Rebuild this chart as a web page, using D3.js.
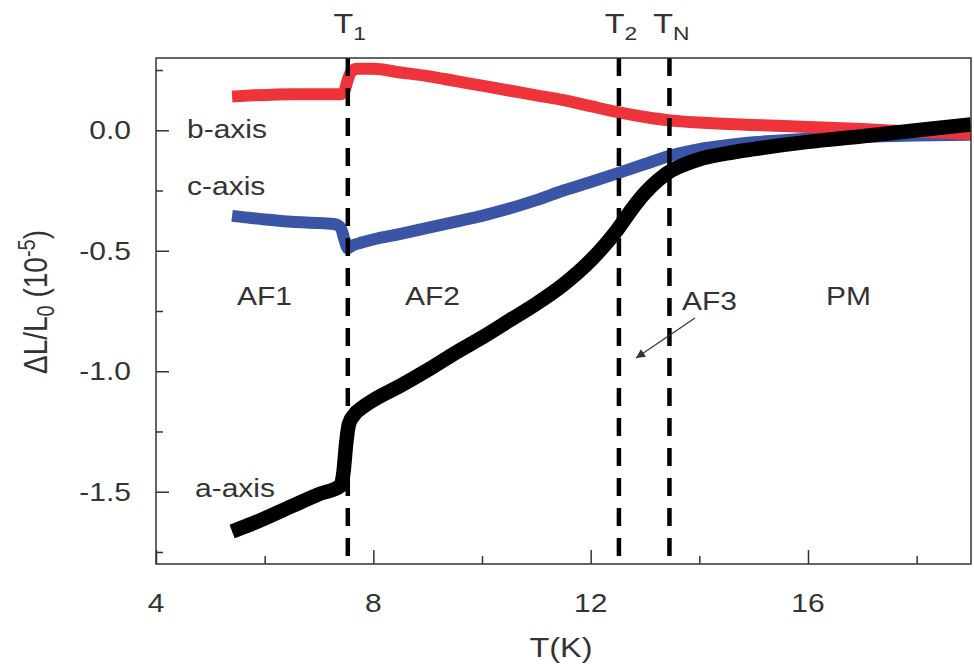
<!DOCTYPE html>
<html><head><meta charset="utf-8">
<script src="https://cdn.jsdelivr.net/npm/d3@7"></script>
<style>
html,body{margin:0;padding:0;background:#fff;}
text{font-family:"Liberation Sans",Arial,sans-serif;fill:#333;}
</style></head>
<body><svg id="c" width="974" height="664"></svg>
<script>
// ---- data ----
const tB = [5.4,5.8,6.5,7.0,7.4,7.47,7.53,7.6,7.7,8.0,8.5,9.0,9.5,10,10.5,11,11.5,12,12.5,13,13.5,14,15,16,17,18,19];
const vB = [0.14,0.145,0.15,0.15,0.15,0.165,0.21,0.245,0.255,0.255,0.24,0.225,0.205,0.185,0.165,0.145,0.125,0.1,0.075,0.055,0.04,0.032,0.022,0.014,0.005,-0.006,-0.015];

const tC = [5.4,6.0,6.5,7.0,7.3,7.4,7.47,7.53,7.6,7.8,8.5,9.0,9.5,10,10.5,11,11.5,12,12.5,13,13.5,14,14.5,15,16,17,18,19];
const vC = [-0.355,-0.37,-0.38,-0.385,-0.39,-0.405,-0.455,-0.49,-0.48,-0.465,-0.43,-0.405,-0.38,-0.355,-0.325,-0.29,-0.25,-0.215,-0.178,-0.14,-0.103,-0.078,-0.062,-0.05,-0.035,-0.027,-0.022,-0.018];

const tA = [5.4,5.8,6.5,7.0,7.4,7.45,7.5,7.55,7.65,7.8,8.0,8.5,9.0,9.5,10,10.5,11,11.5,12,12.5,12.75,13,13.25,13.5,13.75,14,14.5,15,16,17,18,19];
const vA = [-1.665,-1.63,-1.56,-1.51,-1.475,-1.42,-1.3,-1.22,-1.18,-1.15,-1.12,-1.06,-0.995,-0.925,-0.86,-0.79,-0.72,-0.64,-0.54,-0.41,-0.33,-0.26,-0.205,-0.165,-0.14,-0.12,-0.096,-0.078,-0.048,-0.025,0.0,0.024];

const transT = [7.53, 12.52, 13.45];
const transLabels = [["T","1"],["T","2"],["T","N"]];
const xMajor = [4,8,12,16];
const xMinor = [6,10,14,18];
const yMajor = [0,-0.5,-1.0,-1.5];
const yMinor = [0.25,-0.25,-0.75,-1.25,-1.75];
const curveLabels = ["b-axis","c-axis","a-axis"];
const regionLabels = ["AF1","AF2","AF3","PM"];
</script>
<script>
const SX = 1.2;
const svg = d3.select("#c");
const M = {l:156, r:971, t:58, b:564};
const x = d3.scaleLinear().domain([4,19]).range([M.l, M.r]);
const y = d3.scaleLinear().domain([-1.8,0.3]).range([M.b, M.t]);

function txt(px, py, str, size, anchor){
  const g = svg.append("g").attr("transform", `translate(${px},${py}) scale(${SX},1)`);
  return g.append("text").attr("font-size", size).attr("text-anchor", anchor||"start").text(str);
}

// curves
const line = d3.line().x(d=>x(d[0])).y(d=>y(d[1])).curve(d3.curveMonotoneX);
svg.append("clipPath").attr("id","pc").append("rect")
  .attr("x",M.l).attr("y",M.t).attr("width",M.r-M.l).attr("height",M.b-M.t);
const gP = svg.append("g").attr("clip-path","url(#pc)");
gP.append("path").datum(d3.zip(tC,vC)).attr("d",line).attr("fill","none")
  .attr("stroke","#3a55a6").attr("stroke-width",12);
gP.append("path").datum(d3.zip(tB,vB)).attr("d",line).attr("fill","none")
  .attr("stroke","#ee333b").attr("stroke-width",12);
gP.append("path").datum(d3.zip(tA,vA)).attr("d",line).attr("fill","none")
  .attr("stroke","#000").attr("stroke-width",14.5);

// dashed transition lines
transT.forEach(t=>{
  svg.append("line").attr("x1",x(t)).attr("x2",x(t)).attr("y1",M.t).attr("y2",M.b)
    .attr("stroke","#000").attr("stroke-width",4.5).attr("stroke-dasharray","18,12");
});

// frame
svg.append("rect").attr("x",M.l).attr("y",M.t).attr("width",M.r-M.l).attr("height",M.b-M.t)
  .attr("fill","none").attr("stroke","#333").attr("stroke-width",1.5);

// ticks (inward)
const gx = svg.append("g").attr("transform",`translate(0,${M.b})`)
  .call(d3.axisBottom(x).tickValues(xMajor).tickSize(-14).tickFormat(""));
const gxm = svg.append("g").attr("transform",`translate(0,${M.b})`)
  .call(d3.axisBottom(x).tickValues(xMinor).tickSize(-8).tickFormat(""));
const gy = svg.append("g").attr("transform",`translate(${M.l},0)`)
  .call(d3.axisLeft(y).tickValues(yMajor).tickSize(-13).tickFormat(""));
const gym = svg.append("g").attr("transform",`translate(${M.l},0)`)
  .call(d3.axisLeft(y).tickValues(yMinor).tickSize(-7).tickFormat(""));
[gx,gxm,gy,gym].forEach(g=>{
  g.select(".domain").remove();
  g.selectAll("line").attr("stroke","#333").attr("stroke-width",1.5);
});

// tick labels
xMajor.forEach(v=> txt(x(v), 612, String(v), 25, "middle"));
yMajor.forEach(v=> txt(131, y(v)+9, d3.format(".1f")(v).replace("−","-"), 25, "end"));

// transition labels
transT.forEach((t,i)=>{
  const [a,s] = transLabels[i];
  const tt = txt(x(t)+2, 33, "", 27, "middle");
  tt.append("tspan").text(a);
  tt.append("tspan").attr("font-size",19).attr("dy",7).text(s);
});

// curve labels
txt(187,138,curveLabels[0],25);
txt(187,195,curveLabels[1],25);
txt(195,497,curveLabels[2],25);
// region labels
txt(237,305,regionLabels[0],25);
txt(405,305,regionLabels[1],25);
txt(682,310,regionLabels[2],25);
txt(826,305,regionLabels[3],25);

// arrow
svg.append("defs").append("marker").attr("id","ah").attr("viewBox","0 0 10 10")
  .attr("refX",10).attr("refY",5).attr("markerWidth",14).attr("markerHeight",9)
  .attr("markerUnits","userSpaceOnUse").attr("orient","auto")
  .append("path").attr("d","M0,0 L10,5 L0,10 z").attr("fill","#333");
svg.append("line").attr("x1",695).attr("y1",318).attr("x2",636).attr("y2",358)
  .attr("stroke","#333").attr("stroke-width",1.2).attr("marker-end","url(#ah)");

// axis titles
txt(561,657,"T(K)",27,"middle");
const gyl = svg.append("g").attr("transform",`translate(47,302) scale(${SX},1) rotate(-90)`);
const yl = gyl.append("text").attr("font-size",28).attr("text-anchor","middle");
yl.append("tspan").text("ΔL/L");
yl.append("tspan").attr("font-size",20).attr("dy",6).text("0");
yl.append("tspan").attr("dy",-6).text(" (10");
yl.append("tspan").attr("font-size",20).attr("dy",-10).text("-5");
yl.append("tspan").attr("dy",10).text(")");
</script>
</body></html>
